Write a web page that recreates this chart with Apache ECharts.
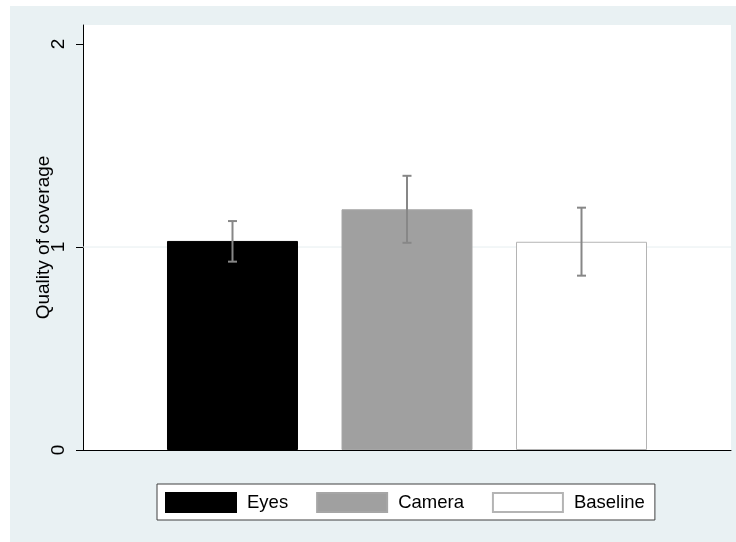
<!DOCTYPE html>
<html>
<head>
<meta charset="utf-8">
<script src="https://cdn.jsdelivr.net/npm/echarts@6/dist/echarts.min.js"></script>
<style>
html,body{margin:0;padding:0;background:#fff;}
#bg{position:absolute;left:10px;top:6px;width:726px;height:536px;background:#E9F1F3;}
#chart{position:absolute;left:0;top:0;width:736px;height:542px;}
</style>
</head>
<body>
<div id="bg"></div>
<div id="chart"></div>
<script>
// ---- data ----
const categories = ['Eyes', 'Camera', 'Baseline'];
const xPositions = [1, 2, 3];
const means = [1.03, 1.186, 1.026];
const ciLow = [0.928, 1.021, 0.859];
const ciHigh = [1.128, 1.351, 1.194];
const yTicks = [0, 1, 2];
const gridValues = [1];
const yTitle = 'Quality of coverage';

// ---- styles ----
const FONT = '"Liberation Sans", Arial, Helvetica, sans-serif';
const barStyles = [
  {color: '#000000', borderColor: '#000000', borderWidth: 1},
  {color: '#A0A0A0', borderColor: '#A6A6A6', borderWidth: 1},
  {color: '#FFFFFF', borderColor: '#B4B4B4', borderWidth: 1}
];

const chart = echarts.init(document.getElementById('chart'), null, {renderer: 'canvas'});

const barSeries = categories.map((name, i) => ({
  name: name,
  type: 'bar',
  barWidth: 131,
  barGap: '-100%',
  z: 2,
  itemStyle: barStyles[i],
  emphasis: {disabled: true},
  data: [[xPositions[i], means[i]]]
}));

const gridSeries = {
  type: 'custom',
  silent: true,
  z: 1,
  data: gridValues.map(v => [v]),
  renderItem: function (params, api) {
    const cs = params.coordSys;
    const y = api.coord([2, api.value(0)])[1];
    return {
      type: 'line',
      shape: {x1: cs.x, y1: y, x2: cs.x + cs.width, y2: y},
      style: {stroke: '#E6EEF0', lineWidth: 1}
    };
  }
};

const errSeries = {
  type: 'custom',
  silent: true,
  z: 5,
  data: xPositions.map((x, i) => [x, ciLow[i], ciHigh[i]]),
  renderItem: function (params, api) {
    const lo = api.coord([api.value(0), api.value(1)]);
    const hi = api.coord([api.value(0), api.value(2)]);
    const w = 4.5;
    const st = {stroke: '#878787', lineWidth: 2};
    return {
      type: 'group',
      children: [
        {type: 'line', shape: {x1: lo[0], y1: lo[1], x2: hi[0], y2: hi[1]}, style: st},
        {type: 'line', shape: {x1: lo[0] - w, y1: lo[1], x2: lo[0] + w, y2: lo[1]}, style: st},
        {type: 'line', shape: {x1: hi[0] - w, y1: hi[1], x2: hi[0] + w, y2: hi[1]}, style: st}
      ]
    };
  }
};

chart.setOption({
  animation: false,
  backgroundColor: 'transparent',
  textStyle: {fontFamily: FONT},
  grid: {
    left: 83, top: 25, right: 5, bottom: 92,
    show: true, backgroundColor: '#FFFFFF', borderWidth: 0
  },
  legend: {
    data: categories,
    left: 157, top: 484,
    orient: 'horizontal',
    padding: [8, 10, 7, 8],
    itemWidth: 70, itemHeight: 19,
    itemGap: 28,
    backgroundColor: '#FFFFFF',
    borderColor: '#404040', borderWidth: 1,
    borderRadius: 0,
    selectedMode: false,
    icon: 'rect',
    textStyle: {fontFamily: FONT, fontSize: 18.5, color: '#000', padding: [0, 0, 0, 6]}
  },
  xAxis: {
    type: 'value',
    min: 0.1433, max: 3.8567,
    axisLine: {show: true, onZero: false, lineStyle: {color: '#000', width: 1}},
    axisTick: {show: false},
    axisLabel: {show: false},
    splitLine: {show: false}
  },
  yAxis: {
    type: 'value',
    min: 0, max: 2.094,
    interval: 1,
    name: yTitle,
    nameLocation: 'middle',
    nameGap: 30,
    nameMoveOverlap: false,
    nameRotate: 90,
    nameTextStyle: {fontFamily: FONT, fontSize: 19, color: '#000'},
    axisLine: {show: true, lineStyle: {color: '#000', width: 1}},
    axisTick: {show: true, length: 7, lineStyle: {color: '#000', width: 1}, customValues: yTicks},
    axisLabel: {show: true, rotate: 90, margin: 15, fontFamily: FONT, fontSize: 19, color: '#000', customValues: yTicks},
    splitLine: {show: false}
  },
  series: [gridSeries].concat(barSeries, [errSeries])
});
</script>
</body>
</html>
